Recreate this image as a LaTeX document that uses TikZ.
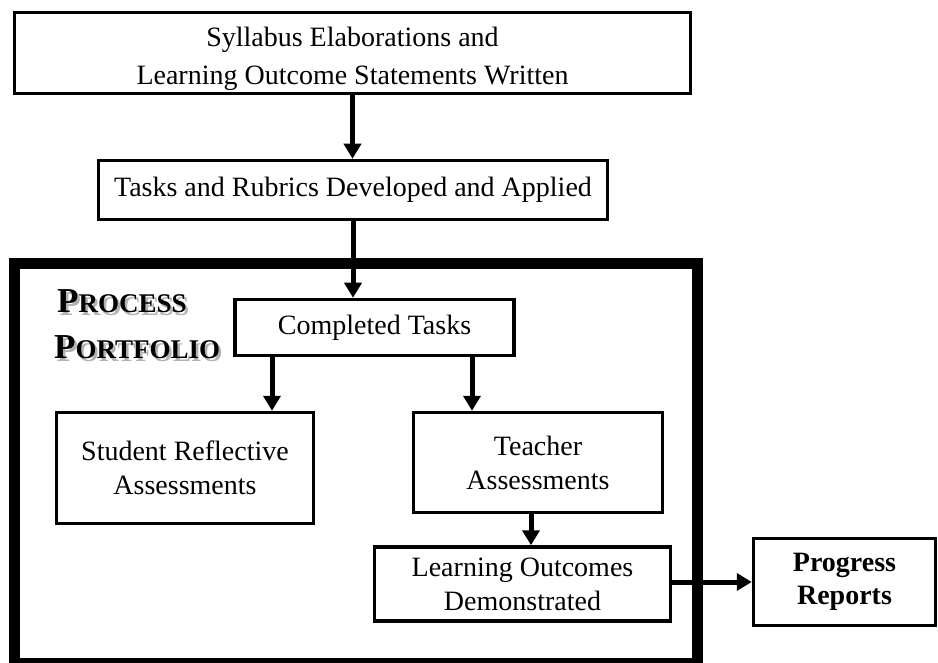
\documentclass[tikz,border=0pt]{standalone}
\usepackage{fontspec}
\setmainfont{Liberation Serif}
\usetikzlibrary{arrows.meta}
\begin{document}
\begin{tikzpicture}[x=1pt,y=-1pt,
  box/.style={draw,line width=3.5pt,align=center,inner sep=0pt,
    font=\fontsize{28}{34}\selectfont},
  arr/.style={line width=5pt,-{Triangle[width=17pt,length=15pt]}},
  lbl/.style={font=\bfseries,align=left,inner sep=0pt,anchor=base west},
  shadowtxt/.style={lbl,text=black!30}]
\newcommand\pscap[2]{{\fontsize{35}{35}\selectfont #1}{\fontsize{27}{27}\selectfont #2}}
\useasboundingbox (0,0) rectangle (938,663);
\draw[line width=11pt] (14,264) rectangle (697,663.5);
\node[box,minimum width=676pt,minimum height=81pt,
  label={[font=\fontsize{28}{38}\selectfont,align=center,yshift=-6pt]center:Syllabus Elaborations and\\Learning Outcome Statements Written}] (syl) at (352.5,53) {};
\node[box,minimum width=509pt,minimum height=59pt] (tr) at (353,190)
  {Tasks and Rubrics Developed and Applied};
\node[box,minimum width=279pt,minimum height=56pt] (ct) at (374.5,327.5)
  {Completed Tasks};
\node[box,minimum width=257pt,minimum height=111pt] (sr) at (185,468)
  {Student Reflective\\Assessments};
\node[box,minimum width=249pt,minimum height=100pt] (ta) at (538,462.5)
  {Teacher\\Assessments};
\node[box,minimum width=296pt,minimum height=74pt] (lo) at (522.5,584)
  {Learning Outcomes\\Demonstrated};
\node[box,minimum width=182pt,minimum height=87pt,font=\fontsize{28}{33}\selectfont\bfseries] (pr) at (844.5,582)
  {Progress\\Reports};
\node[shadowtxt] at (59.5,315.5) {\pscap{P}{ROCESS}};
\node[lbl] (pp1) at (57,313) {\pscap{P}{ROCESS}};
\node[shadowtxt] at (56.5,361.5) {\pscap{P}{ORTFOLIO}};
\node[lbl] (pp2) at (54,359) {\pscap{P}{ORTFOLIO}};
\coordinate (c1) at (272,0);
\coordinate (c2) at (472,0);
\coordinate (c3) at (531,0);
\draw[arr] (syl.south) -- (syl.south |- tr.north);
\draw[arr] (tr.south) -- (tr.south |- ct.north);
\draw[arr] (c1 |- ct.south) -- (c1 |- sr.north);
\draw[arr] (c2 |- ct.south) -- (c2 |- ta.north);
\draw[arr] (c3 |- ta.south) -- (c3 |- lo.north);
\draw[arr] (lo.east |- pr.west) -- (pr.west);
\end{tikzpicture}
\end{document}
